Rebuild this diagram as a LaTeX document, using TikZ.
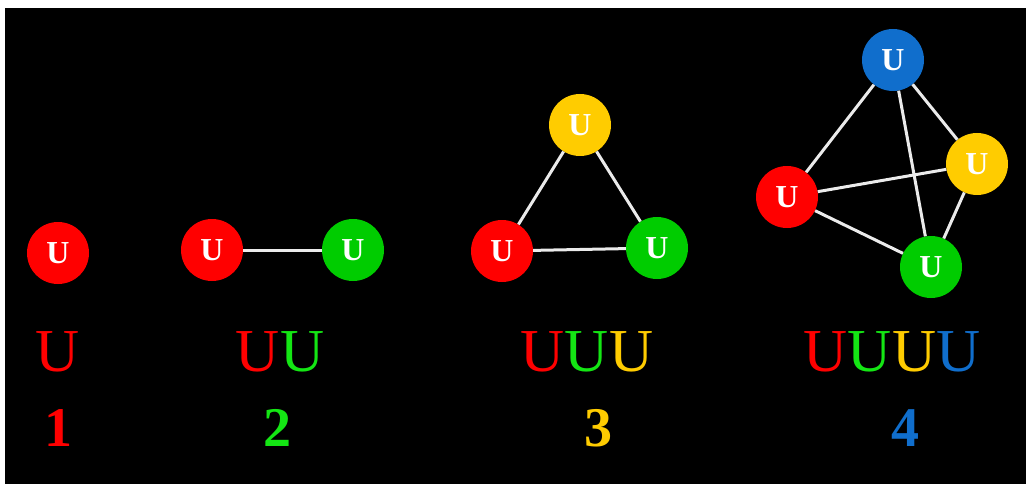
\documentclass[tikz,border=0pt]{standalone}
\usepackage{fontspec}
\setmainfont{Liberation Serif}
\definecolor{ured}{RGB}{255,0,0}
\definecolor{ugreen}{RGB}{0,204,0}
\definecolor{tgreen}{RGB}{20,230,20}
\definecolor{uyellow}{RGB}{255,204,0}
\definecolor{ublue}{RGB}{16,110,204}
\definecolor{edgecol}{RGB}{235,235,235}
\tikzset{
  ball/.style={circle, minimum size=62pt, inner sep=0pt, text=white,
    font=\fontsize{32}{32}\selectfont\bfseries},
  link/.style={draw=edgecol, line width=3pt},
  word/.style={inner sep=0pt, font=\fontsize{61}{61}\selectfont},
  count/.style={inner sep=0pt, font=\fontsize{56}{56}\selectfont\bfseries},
}
\begin{document}
\begin{tikzpicture}[x=1pt,y=1pt]
\fill[white] (0,0) rectangle (1026,-484);
\fill[black] (5,-8) rectangle (1026,-484);
\useasboundingbox (0,0) rectangle (1026,-484);
% group 1
\node[ball, fill=ured] (a1) at (58,-253) {U};
\node[word, text=ured] (w1) at (58,-352) {U};
\node[count, text=ured] (n1) at (58,-428) {1};
% group 2
\node[ball, fill=ured] (b1) at (212,-250) {U};
\node[ball, fill=ugreen] (b2) at (353,-250) {U};
\draw[link] (b1) -- (b2);
\node[word] (w2) at (280,-352) {\textcolor{ured}{U}\textcolor{tgreen}{U}};
\node[count, text=tgreen] (n2) at (277,-428) {2};
% group 3
\node[ball, fill=uyellow] (c3) at (580,-125) {U};
\node[ball, fill=ured] (c1) at (502,-251) {U};
\node[ball, fill=ugreen] (c2) at (657,-248) {U};
\draw[link] (c1) -- (c3);
\draw[link] (c3) -- (c2);
\draw[link] (c1) -- (c2);
\node[word] (w3) at (587,-352) {\textcolor{ured}{U}\textcolor{tgreen}{U}\textcolor{uyellow}{U}};
\node[count, text=uyellow] (n3) at (598,-428) {3};
% group 4
\node[ball, fill=ublue] (d4) at (893,-60) {U};
\node[ball, fill=ured] (d1) at (787,-197) {U};
\node[ball, fill=uyellow] (d3) at (977,-164) {U};
\node[ball, fill=ugreen] (d2) at (931,-267) {U};
\draw[link] (d4) -- (d1);
\draw[link] (d4) -- (d3);
\draw[link] (d4) -- (d2);
\draw[link] (d1) -- (d3);
\draw[link] (d1) -- (d2);
\draw[link] (d3) -- (d2);
\node[word] (w4) at (892,-352) {\textcolor{ured}{U}\textcolor{tgreen}{U}\textcolor{uyellow}{U}\textcolor{ublue}{U}};
\node[count, text=ublue] (n4) at (905,-428) {4};
\end{tikzpicture}
\end{document}
